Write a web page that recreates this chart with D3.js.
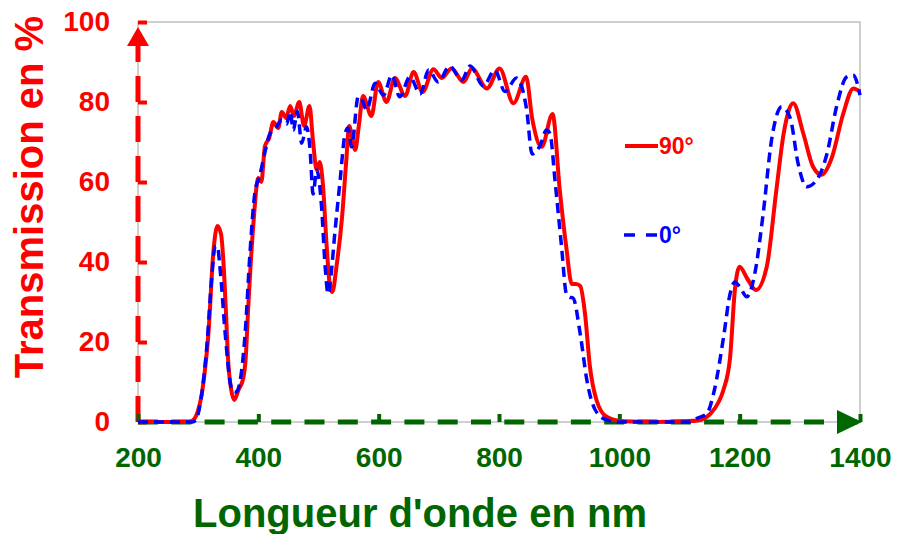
<!DOCTYPE html>
<html>
<head>
<meta charset="utf-8">
<script src="https://cdn.jsdelivr.net/npm/d3@7"></script>
<style>
  body { margin: 0; background: #fff; }
  text { font-family: "Liberation Sans", Arial, sans-serif; font-weight: bold; }
</style>
</head>
<body>
<div id="chart"></div>
<script>
// wavelength (nm) / transmission (%)
const wl90 = [200, 250, 285, 292, 300, 306, 312, 317, 325, 332, 338, 342, 346, 350, 355, 360, 367, 375, 379, 383,
  392, 400, 405, 411, 418, 425, 433, 439, 446, 453, 459, 468, 476, 485, 491, 497, 502, 507, 514, 519,
  523, 530, 539, 546, 551, 556, 561, 567, 574, 588, 599, 613, 627, 644, 658, 673, 691, 705, 721, 741,
  755, 780, 801, 824, 845, 855, 871, 889, 901, 912, 921, 928, 935, 943, 951, 962, 979, 1006, 1060, 1110,
  1130, 1151, 1165, 1173, 1184, 1192, 1200, 1212, 1227, 1245, 1261, 1273, 1289, 1306, 1322, 1336, 1353, 1372, 1389, 1400];
const t90 = [0, 0, 0, 0.5, 3, 7, 14, 22, 42, 49, 47, 40, 28, 15, 8, 5.5, 8, 11, 16, 28,
  50, 61, 60, 69, 71, 75, 73.5, 77.5, 76, 79, 76.5, 80, 74, 79, 70, 63, 65, 60, 43, 34,
  32.5, 39, 51, 65, 74, 71, 68, 74, 81.5, 76.5, 85, 80, 86, 81.5, 87.5, 82.5, 88.2, 86, 88.4, 85,
  88.4, 83.4, 88.4, 79.7, 86.3, 76, 68.8, 77, 58, 43.5, 34.5, 34.5, 34, 27, 14, 5.5, 1.3, 0.2, 0, 0.2,
  0.4, 2, 5, 8, 16, 33, 38.8, 36, 33, 38.8, 58, 72, 79.7, 72, 63.8, 61.8, 66, 77, 83.4, 82.6];

const wl0 = [200, 250, 290, 296, 305, 315, 322, 328, 332, 336, 345, 353, 358, 363, 369, 378, 386, 394, 403, 411,
  419, 429, 439, 447, 453, 458, 465, 472, 480, 486, 491, 497, 505, 511, 516, 521, 527, 536, 544, 549,
  555, 566, 571, 580, 594, 608, 622, 635, 652, 669, 683, 699, 718, 738, 752, 774, 793, 810, 829, 846,
  855, 868, 879, 885, 893, 904, 912, 917, 923, 935, 946, 960, 979, 1000, 1117, 1130, 1145, 1158, 1173, 1184,
  1192, 1200, 1212, 1225, 1239, 1253, 1270, 1284, 1297, 1311, 1328, 1345, 1361, 1378, 1389, 1400];
const t0 = [0, 0, 0, 0.5, 6, 20, 35, 43.8, 44, 39, 22, 10, 7.6, 7.5, 9.7, 22, 42, 57, 62, 67.5,
  72, 73.5, 75.5, 74.5, 77.6, 73, 77.6, 69.7, 73.8, 68, 57, 63, 54, 39, 32, 37, 47, 60.5, 72, 73.5,
  68.8, 81.3, 81, 78, 84.7, 81.7, 86.7, 81.3, 86.3, 82, 88, 85, 89, 85.5, 89, 84, 88, 82.6, 86, 78,
  67, 69, 73, 72, 60.5, 43.8, 32, 31.2, 31, 22, 10.5, 3, 0.5, 0, 0, 1, 2, 8, 21, 32,
  35, 33.8, 31.3, 37, 52, 70.5, 78.8, 76, 64.7, 58.8, 60.5, 67, 78.8, 86.3, 86.7, 81.7];

const xTicks = [200, 400, 600, 800, 1000, 1200, 1400];
const yTicks = [0, 20, 40, 60, 80, 100];
const seriesNames = ["90°", "0°"];

const red = "#ff0000", blue = "#0000ff", green = "#006600";

const svg = d3.select("#chart")
  .append("svg")
  .attr("width", 897)
  .attr("height", 534);

const x = d3.scaleLinear().domain([200, 1400]).range([138, 860]);
const y = d3.scaleLinear().domain([0, 100]).range([422, 22]);

// light grey plot frame
svg.append("rect")
  .attr("x", x(200)).attr("y", y(100))
  .attr("width", x(1400) - x(200)).attr("height", y(0) - y(100))
  .attr("fill", "none")
  .attr("stroke", "#c0c0c0")
  .attr("stroke-width", 1.5);

// y axis (red, dashed, arrow)
const yAxis = svg.append("g")
  .attr("transform", `translate(${x(200)},0)`)
  .call(d3.axisLeft(y).tickValues(yTicks).tickFormat(d3.format("d"))
    .tickSizeInner(-9).tickSizeOuter(0).tickPadding(28));
yAxis.select(".domain").remove();
yAxis.selectAll("line").attr("stroke", red).attr("stroke-width", 4);
yAxis.selectAll("text")
  .attr("fill", red)
  .attr("font-size", 28)
  .attr("font-family", "Liberation Sans, Arial, sans-serif")
  .attr("font-weight", "bold");

svg.append("line")
  .attr("x1", x(200)).attr("x2", x(200))
  .attr("y1", y(0)).attr("y2", y(100))
  .attr("stroke", red)
  .attr("stroke-width", 5)
  .attr("stroke-dasharray", "26,14");
svg.append("path")
  .attr("d", `M${x(200)},${y(100) + 5} L${x(200) - 11},${y(100) + 24} L${x(200) + 11},${y(100) + 24} Z`)
  .attr("fill", red);

// x axis (green, dashed, arrow)
const xAxis = svg.append("g")
  .attr("transform", `translate(0,${y(0)})`)
  .call(d3.axisBottom(x).tickValues(xTicks).tickFormat(d3.format("d"))
    .tickSizeInner(-8).tickSizeOuter(0).tickPadding(25));
xAxis.select(".domain").remove();
xAxis.selectAll("line").attr("stroke", green).attr("stroke-width", 4);
xAxis.selectAll("text")
  .attr("fill", green)
  .attr("font-size", 28)
  .attr("font-family", "Liberation Sans, Arial, sans-serif")
  .attr("font-weight", "bold");

svg.append("line")
  .attr("x1", x(200)).attr("x2", x(1400))
  .attr("y1", y(0)).attr("y2", y(0))
  .attr("stroke", green)
  .attr("stroke-width", 5)
  .attr("stroke-dasharray", "20,13.3");
svg.append("path")
  .attr("d", `M${x(1400) + 2},${y(0)} L${x(1400) - 23},${y(0) - 12} L${x(1400) - 23},${y(0) + 12} Z`)
  .attr("fill", green);

// curves
const line = d3.line()
  .x(d => x(d[0]))
  .y(d => y(d[1]))
  .curve(d3.curveMonotoneX);

svg.append("path")
  .datum(wl90.map((w, i) => [w, t90[i]]))
  .attr("d", line)
  .attr("fill", "none")
  .attr("stroke", red)
  .attr("stroke-width", 4);

svg.append("path")
  .datum(wl0.map((w, i) => [w, t0[i]]))
  .attr("d", line)
  .attr("fill", "none")
  .attr("stroke", blue)
  .attr("stroke-width", 3.5)
  .attr("stroke-dasharray", "10,6");

// legend
const legend = svg.append("g");
legend.append("line")
  .attr("x1", 625).attr("x2", 658).attr("y1", 146).attr("y2", 146)
  .attr("stroke", red).attr("stroke-width", 4);
legend.append("text")
  .attr("x", 659).attr("y", 154)
  .attr("font-size", 23)
  .attr("fill", red)
  .text(seriesNames[0]);
legend.append("line")
  .attr("x1", 624).attr("x2", 657).attr("y1", 235).attr("y2", 235)
  .attr("stroke", blue).attr("stroke-width", 3.5)
  .attr("stroke-dasharray", "11,11");
legend.append("text")
  .attr("x", 659).attr("y", 243)
  .attr("font-size", 23)
  .attr("fill", blue)
  .text(seriesNames[1]);

// axis titles
svg.append("text")
  .attr("transform", "translate(43,197) rotate(-90)")
  .attr("text-anchor", "middle")
  .attr("font-size", 40)
  .attr("fill", red)
  .text("Transmission en %");

svg.append("text")
  .attr("x", 420)
  .attr("y", 527)
  .attr("text-anchor", "middle")
  .attr("font-size", 40)
  .attr("fill", green)
  .text("Longueur d'onde en nm");
</script>
</body>
</html>
